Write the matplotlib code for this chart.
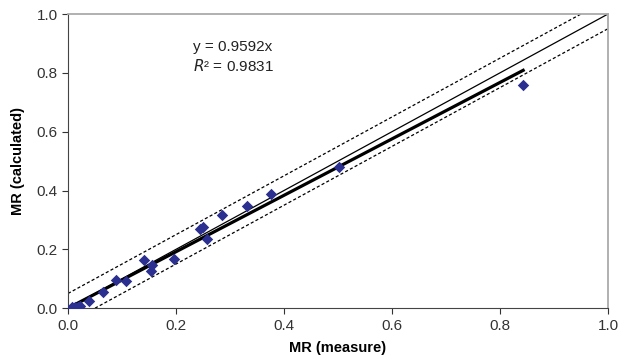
import numpy as np
import matplotlib.pyplot as plt

plt.rcParams['font.family'] = ['Liberation Sans', 'DejaVu Sans']

# measured vs calculated moisture ratio
mr_measure = [0.007, 0.013, 0.019, 0.022, 0.039, 0.065, 0.089, 0.107, 0.141, 0.154,
              0.156, 0.196, 0.244, 0.250, 0.257, 0.285, 0.331, 0.376, 0.502, 0.843]
mr_calc = [0.003, 0.003, 0.003, 0.007, 0.024, 0.054, 0.095, 0.092, 0.163, 0.126,
           0.146, 0.167, 0.269, 0.276, 0.235, 0.316, 0.347, 0.388, 0.480, 0.759]
slope = 0.9592
r2 = 0.9831
band = 0.05

fig = plt.figure(figsize=(6.3, 3.6), dpi=100)
ax = fig.add_axes([0.108, 0.144, 0.857, 0.817])

# 1:1 line and +/- band
ax.plot([0, 1], [0, 1], color='black', lw=0.9)
ax.plot([0, 1 - band], [band, 1], color='black', lw=0.9, ls=(0, (2.5, 1.8)))
ax.plot([band, 1], [0, 1 - band], color='black', lw=0.9, ls=(0, (2.5, 1.8)))

# fitted line through origin
xmax = max(mr_measure)
ax.plot([0, xmax], [0, slope * xmax], color='black', lw=2.3)

ax.scatter(mr_measure, mr_calc, marker='D', s=34, color='#2b2f8f', zorder=3, linewidths=0)

ax.text(0.231, 0.888, 'y = %.4fx' % slope, fontsize=11, color='#222222', va='center')
ax.text(0.231, 0.823, '$R$² = %.4f' % r2, fontsize=11, color='#222222', va='center')

ax.set_xlim(0, 1)
ax.set_ylim(0, 1)
ax.set_xticks(np.arange(0, 1.01, 0.2))
ax.set_yticks(np.arange(0, 1.01, 0.2))
ax.xaxis.set_major_formatter(plt.FormatStrFormatter('%.1f'))
ax.yaxis.set_major_formatter(plt.FormatStrFormatter('%.1f'))
ax.tick_params(direction='out', length=4, labelsize=11, colors='#333333')

for s in ['left', 'bottom']:
    ax.spines[s].set_color('#444444')
for s in ['top', 'right']:
    ax.spines[s].set_color('#aaaaaa')
    ax.spines[s].set_linewidth(1.3)

ax.set_xlabel('MR (measure)', fontsize=10.5, fontweight='bold', labelpad=6)
ax.set_ylabel('MR (calculated)', fontsize=10.5, fontweight='bold', labelpad=8)

fig.savefig('out.png', dpi=100)
